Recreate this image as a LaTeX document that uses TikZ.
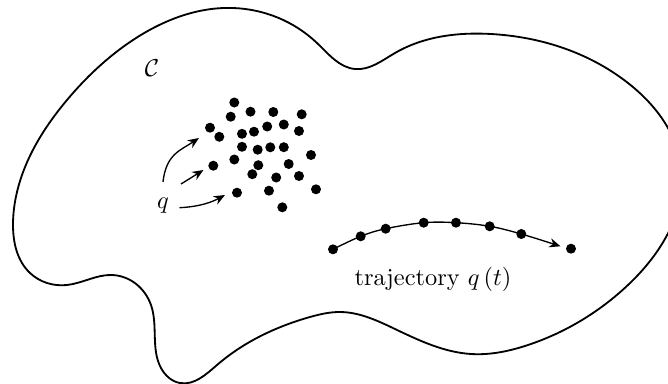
\documentclass[tikz,border=0pt]{standalone}
\usetikzlibrary{arrows.meta,hobby}
\begin{document}
\begin{tikzpicture}[x=0.0144cm,y=-0.0144cm,
  dot/.style={circle,fill=black,inner sep=0pt,minimum size=4.1pt},
  outline/.style={line width=0.75pt,line join=round},
  arr/.style={line width=0.55pt,-{Stealth[length=4.6pt,width=3.8pt]}},
  lbl/.style={inner sep=0pt}]
\useasboundingbox (0,0) rectangle (668,384);
\begin{scope}
\clip (0,0) rectangle (668,384);
\draw[outline,use Hobby shortcut,closed=true]
 (17,192) .. (67,100) .. (133,40) .. (233,8) .. (317,43) .. (355,69) ..
 (395,53) .. (491,34) .. (628,83) .. (681,166) .. (628,285) .. (528,345) ..
 (471,354) .. (395,329) .. (340,312) .. (310,317) .. (217,365) .. (180,383) .. (161,368) ..
 (151,305) .. (112,275) .. (67,285) .. (30,273) .. (13,225);
\end{scope}

\node[lbl] (C) at (152,68) {$\mathcal{C}$};
\node[lbl] (q) at (163,206) {$q$};

% cloud of configurations
\foreach \n/\x/\y in {
 c1/234.3/102.5, c2/230.7/116.7, c3/250.5/111.7, c4/273.3/112, c5/301.7/114.3,
 c6/210/127.7, c7/219.3/136.8, c8/242/133.8, c9/254/131.7, c10/267.2/126.5,
 c11/283.8/124.5, c12/299/131, c13/242/146.8, c14/257.7/149.7, c15/270.3/147.3,
 c16/283.8/147.2, c17/311/155, c18/213.3/165.7, c19/234.3/159.5, c20/258.3/165.2,
 c21/288.7/164, c22/252.3/174.2, c23/276.2/177.5, c24/299/176, c25/316/189.3,
 c26/237/192.7, c27/269/190.7, c28/282.3/207.3}
 \node[dot] (\n) at (\x,\y) {};

% arrows from q
\coordinate (a1s) at (163,182);
\coordinate (a1e) at (199,138);
\coordinate (a2s) at (181,184);
\coordinate (a2e) at (203.5,170);
\coordinate (a3s) at (179.5,207.7);
\coordinate (a3e) at (225,195);
\draw[arr] (a1s) .. controls +(3,-28) and +(-18,12) .. (a1e);
\draw[arr] (a2s) -- (a2e);
\draw[arr] (a3s) .. controls +(22,-1) and +(-11,6) .. (a3e);

% trajectory
\coordinate (t1) at (333,249.3);
\coordinate (t2) at (360.7,236.3);
\coordinate (t3) at (385.7,228.7);
\coordinate (t4) at (423.7,222.7);
\coordinate (t5) at (456,222.7);
\coordinate (t6) at (489.7,226.3);
\coordinate (t7) at (521.3,234);
\coordinate (t8) at (571,248.7);
\coordinate (tend) at (560.5,246.3);
\draw[arr] plot[smooth, tension=0.6] coordinates {(t1) (t2) (t3) (t4) (t5) (t6) (t7) (tend)};
\foreach \n in {t1,t2,t3,t4,t5,t6,t7,t8}
 \node[dot] (d\n) at (\n) {};

\node[lbl] (traj) at (433,279) {trajectory $q\left(t\right)$};
\end{tikzpicture}
\end{document}
